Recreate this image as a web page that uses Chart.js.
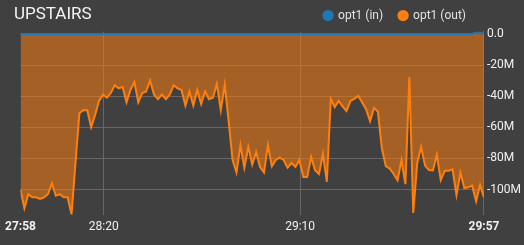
<!DOCTYPE html>
<html><head><meta charset="utf-8">
<script src="https://cdn.jsdelivr.net/npm/chart.js@4.4.0/dist/chart.umd.min.js"></script>
<style>
html,body{margin:0;padding:0;background:#404040;overflow:hidden}
#wrap{position:relative;width:524px;height:245px}
#title{position:absolute;left:14px;top:4px;font-family:Roboto,sans-serif;font-size:17px;line-height:19px;color:#f4f4f4;white-space:nowrap}
canvas{display:block}
</style></head><body>
<div id="wrap"><canvas id="c" width="524" height="245"></canvas><div id="title"></div></div>
<script>
const chartTitle = 'UPSTAIRS';
const seriesNames = ['opt1 (in)', 'opt1 (out)'];
const startSec = 118.8;            // first sample, seconds after 27:00
const tickTimes = [118.8, 140, 190, 236.8];
const tickLabels = ['27:58', '28:20', '29:10', '29:57'];
const yTicks = [0, -20, -40, -60, -80, -100];

// values in millions
const inValues = [
 0,0,0,0,0,0,0,0,0,0, 0,0,0,0,0,0,0,0,0,0,
 0,0,0,0,0,0,0,0,0,0, 0,0,0,0,0,0,0,0,0,0,
 0,0,0,0,0,0,0,0,0,0, 0,0,0,0,0,0,0,0,0,0,
 0,0,0,0,0,0,0,0,0,0, 0,0,0,0,0,0,0,0,0,0,
 0,0,0,0,0,0,0,0,0,0, 0,0,0,0,0,0,0,0,0,0,
 0,0,0,0,0,0,0,0,0,0, 0,0,0,0,0,0,1,1,0
];
const outValues = [
 -100,-112,-103,-105,-105,-106,-105,-103,-96,-104,
 -103,-105,-105,-116,-83,-51,-49,-49,-60,-52,
 -43,-39,-41,-38,-33,-35,-34,-44,-36,-31,
 -44,-38,-37,-30,-39,-42,-39,-42,-39,-33,
 -35,-36,-46,-37,-46,-36,-45,-37,-42,-41,
 -32,-49,-32.5,-56,-81,-89,-71.5,-86,-72.5,-84,
 -76,-85.5,-89,-71.5,-85,-81,-79.5,-81,-86,-83,
 -85.5,-81,-92,-92,-79,-87.5,-90,-77,-95,-41.7,
 -47,-43,-46.5,-49.6,-43,-41.7,-39.8,-44,-48.5,-56,
 -47.5,-50,-73.5,-85,-86.5,-90,-94,-81,-96.5,-27.7,
 -115,-83,-72.5,-84.6,-87.5,-87.7,-77.7,-94,-88,-88,
 -87,-103.5,-89,-99,-98.5,-97.5,-107.5,-97,-105
];
const times = outValues.map((_, i) => startSec + i);

document.getElementById('title').textContent = chartTitle;

const FONT = 'Roboto';
const legendShift = {
  id: 'legendShift',
  afterLayout(chart) {
    const l = chart.legend;
    if (l) { l.left -= 42; l.right -= 42; }
  }
};

new Chart(document.getElementById('c'), {
  type: 'line',
  data: {
    datasets: [
      { label: seriesNames[0], data: times.map((t, i) => ({x: t, y: inValues[i]})),
        borderColor: '#1f77b4', backgroundColor: 'rgba(31,119,180,0.5)', fill: 'origin',
        borderWidth: 2, pointRadius: 0, tension: 0 },
      { label: seriesNames[1], data: times.map((t, i) => ({x: t, y: outValues[i]})),
        borderColor: '#ff7f0e', backgroundColor: 'rgba(255,127,14,0.53)', fill: 'origin',
        borderWidth: 2, pointRadius: 0, tension: 0 }
    ]
  },
  options: {
    responsive: false, animation: false,
    layout: { padding: { top: -6.4, left: 18, right: 0, bottom: 6 } },
    plugins: {
      tooltip: { enabled: false },
      legend: {
        position: 'top', align: 'end',
        labels: {
          usePointStyle: true, pointStyle: 'circle', boxWidth: 8, boxHeight: 8, padding: 16,
          color: '#e2e2e2', font: { size: 12, family: FONT },
          generateLabels(chart) {
            return chart.data.datasets.map((d, i) => ({
              text: d.label, fillStyle: d.borderColor, strokeStyle: d.borderColor,
              lineWidth: 0, pointStyle: 'circle', hidden: false, datasetIndex: i,
              fontColor: '#e2e2e2'
            }));
          }
        }
      }
    },
    scales: {
      x: {
        type: 'linear', min: tickTimes[0], max: tickTimes[tickTimes.length - 1],
        afterBuildTicks: s => { s.ticks = tickTimes.map(v => ({ value: v })); },
        ticks: {
          autoSkip: false, maxRotation: 0, padding: 5, color: '#f0f0f0',
          callback: (v, i) => tickLabels[i],
          font: c => ({ size: 12, family: FONT,
            weight: (c.index === 0 || c.index === tickLabels.length - 1) ? 'bold' : 'normal' })
        },
        grid: { drawTicks: false, color: c => c.index === 0 ? 'rgba(0,0,0,0)' : '#666666' },
        border: { display: false }
      },
      y: {
        position: 'right', min: -116.1, max: 1.5,
        afterBuildTicks: s => { s.ticks = yTicks.map(v => ({ value: v })); },
        ticks: {
          padding: 3, color: '#f0f0f0', font: { size: 12, family: FONT },
          callback: v => v === 0 ? '0.0' : v + 'M'
        },
        grid: { drawTicks: false, color: '#666666' },
        border: { display: true, color: '#666666' }
      }
    }
  },
  plugins: [legendShift]
});
</script>
</body></html>
